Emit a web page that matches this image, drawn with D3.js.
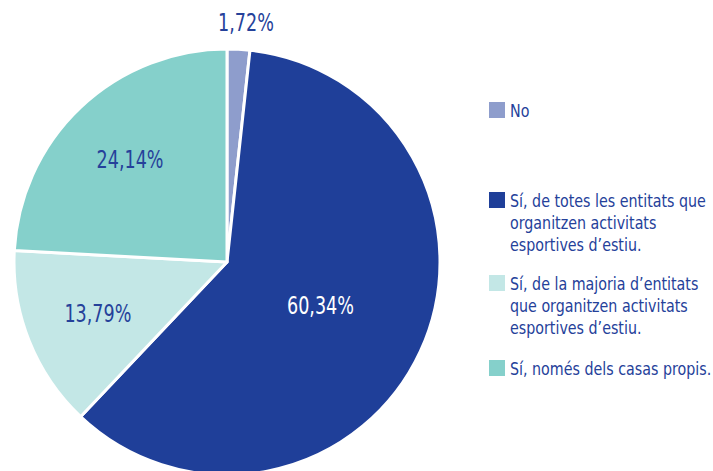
<!DOCTYPE html>
<html>
<head>
<meta charset="utf-8">
<script src="https://cdn.jsdelivr.net/npm/d3@7"></script>
<style>
  body { margin: 0; background: #fff; }
  svg { display: block; font-family: "DejaVu Sans Condensed", "Liberation Sans Narrow", sans-serif; }
</style>
</head>
<body>
<svg id="chart" width="713" height="471"></svg>
<script>
// dades
var categories = ["No", "Sí, de totes les entitats que organitzen activitats esportives d’estiu.", "Sí, de la majoria d’entitats que organitzen activitats esportives d’estiu.", "Sí, només dels casas propis."];
var values = [1.72, 60.34, 13.79, 24.14];
var labels = ["1,72%", "60,34%", "13,79%", "24,14%"];
var legendLines = [
  ["No"],
  ["Sí, de totes les entitats que", "organitzen activitats", "esportives d’estiu."],
  ["Sí, de la majoria d’entitats", "que organitzen activitats", "esportives d’estiu."],
  ["Sí, només dels casas propis."]
];
var colors = ["#8e9dcc", "#1f3f99", "#c3e7e6", "#85d0cb"];

const svg = d3.select('#chart');
const cx = 227, cy = 262, r = 213;
const textColor = "#25419a";

const pie = d3.pie().sort(null).value(d => d);
const arcs = pie(values);
const arc = d3.arc().innerRadius(0).outerRadius(r);

const g = svg.append('g').attr('transform', 'translate(' + cx + ',' + cy + ')');

g.selectAll('path')
  .data(arcs)
  .enter().append('path')
  .attr('d', arc)
  .attr('fill', (d, i) => colors[i])
  .attr('stroke', '#fff')
  .attr('stroke-width', 3)
  .attr('stroke-linejoin', 'round');

// radi de cada etiqueta (la primera fora del pastís) + petit desplaçament en x
const labelRadius = [240, 103, 139, 141];
const labelDx = [6, 0, 0, 0];

const pct = g.selectAll('g.pct')
  .data(arcs)
  .enter().append('g')
  .attr('class', 'pct')
  .attr('transform', (d, i) => {
    const a = (d.startAngle + d.endAngle) / 2;
    return 'translate(' + (labelRadius[i] * Math.sin(a) + labelDx[i]) + ',' + (-labelRadius[i] * Math.cos(a)) + ')';
  });

const pctText = pct.append('text')
  .attr('text-anchor', 'middle')
  .attr('dy', '0.36em')
  .attr('fill', (d, i) => i == 1 ? '#fff' : textColor)
  .style('font-size', '24.5px')
  .style('font-weight', 300)
  .text((d, i) => labels[i]);

// la font original és més estreta: escalem en horitzontal
const pctW = pctText.filter((d, i) => i == 1).node().getComputedTextLength();
const pctScale = 67 / pctW;
pctText.attr('transform', 'scale(' + pctScale + ',1)');

// llegenda
const legendY = [102, 192, 275, 360];
const legend = svg.append('g')
  .selectAll('g')
  .data(categories)
  .enter().append('g')
  .attr('transform', (d, i) => 'translate(489,' + legendY[i] + ')');

legend.append('rect')
  .attr('width', 16)
  .attr('height', 16)
  .attr('fill', (d, i) => colors[i]);

const legText = legend.append('g')
  .attr('transform', 'translate(21,0)')
  .append('text')
  .attr('fill', textColor)
  .style('font-size', '18px');

legText.selectAll('tspan')
  .data((d, i) => legendLines[i])
  .enter().append('tspan')
  .attr('x', 0)
  .attr('y', (d, j) => 15 + j * 21.8)
  .text(d => d);

const legW = legText.filter((d, i) => i == 1).select('tspan').node().getComputedTextLength();
const legScale = 196 / legW;
legText.attr('transform', 'scale(' + legScale + ',1)');
</script>
</body>
</html>
